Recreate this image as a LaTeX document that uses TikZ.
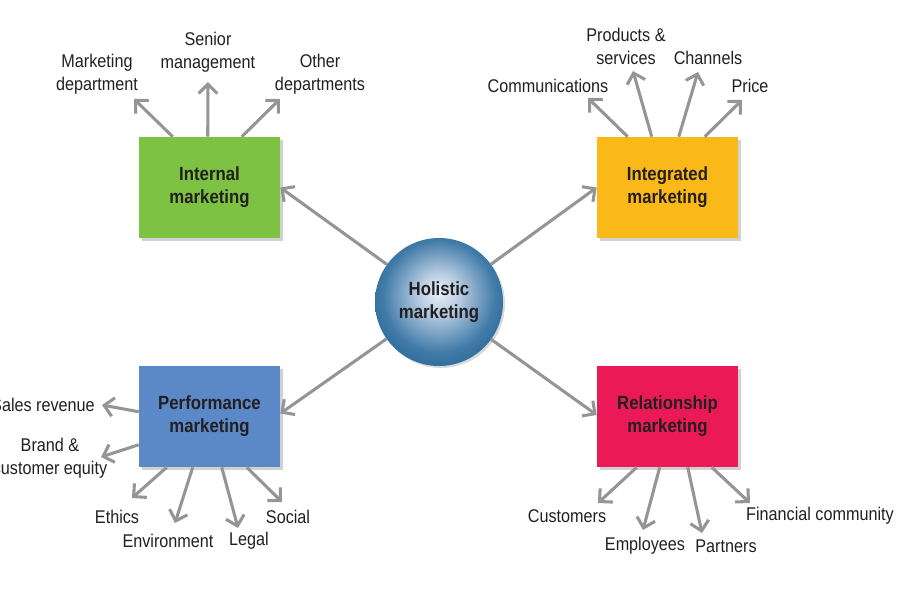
\documentclass[tikz,border=0pt]{standalone}
\usepackage{fontspec}
\setmainfont{Liberation Sans}[FakeStretch=0.88]
\usetikzlibrary{arrows.meta,shadows,calc}
\definecolor{cgreen}{HTML}{7DC242}
\definecolor{corange}{HTML}{FBB819}
\definecolor{cblue}{HTML}{5B89C8}
\definecolor{cpink}{HTML}{EB1A56}
\definecolor{ctext}{HTML}{231F20}
\definecolor{cgray}{HTML}{939598}
\pgfdeclareradialshading{holball}{\pgfpoint{0bp}{4bp}}{rgb(0bp)=(0.92,0.94,0.97); rgb(8bp)=(0.72,0.80,0.88); rgb(22bp)=(0.25,0.48,0.66); rgb(36bp)=(0.10,0.35,0.53); rgb(50bp)=(0.06,0.26,0.42)}
\begin{document}
\begin{tikzpicture}[x=0.75pt,y=-0.75pt,
  box/.style={minimum width=105.75pt,minimum height=75.75pt,inner sep=0pt,align=center,
    font=\fontsize{14.3}{17.25}\selectfont\bfseries,text=ctext,
    drop shadow={shadow xshift=2.5pt,shadow yshift=-2.5pt,opacity=0.3,fill=black!60}},
  hub/.style={circle,minimum size=96pt,inner sep=0pt,align=center,shading=holball,
    font=\fontsize{14.3}{17.25}\selectfont\bfseries,text=ctext,
    drop shadow={shadow xshift=1.5pt,shadow yshift=-1.5pt,opacity=0.25,fill=black!60}},
  lab/.style={inner sep=0pt,align=center,font=\fontsize{13.8}{17.25}\selectfont,text=ctext},
  arr/.style={draw=cgray,line width=2.3pt,-{Straight Barb[length=7pt,width=14pt]}}]
\useasboundingbox (0,0) rectangle (915,590);
% boxes
\node[box,fill=cgreen]  (int) at (209.5,187.5) {Internal\\marketing};
\node[box,fill=corange] (itg) at (667.5,187.5) {Integrated\\marketing};
\node[box,fill=cblue]   (prf) at (209.5,416.5) {Performance\\marketing};
\node[box,fill=cpink]   (rel) at (667.5,416.5) {Relationship\\marketing};
\node[hub] (hol) at (439,302) {Holistic\\marketing};
\draw[arr] (hol) -- (int.east);
\draw[arr] (hol) -- (itg.west);
\draw[arr] (hol) -- ($(prf.east)+(0,-3)$);
\draw[arr] (hol) -- ($(rel.west)+(0,-1.5)$);
% internal
\node[lab] (mkt) at (97,74.5) {Marketing\\department};
\node[lab] (sen) at (208,52.5) {Senior\\management};
\node[lab] (oth) at (320,74.5) {Other\\departments};
\coordinate (tmkt) at (134,99);
\coordinate (tsen) at (208,82);
\coordinate (toth) at (280,99);
\draw[arr] ($(int.north west)+(34,0)$) -- (tmkt);
\draw[arr] ($(int.north west)+(69,0)$) -- (tsen);
\draw[arr] ($(int.north west)+(103,0)$) -- (toth);
% integrated
\node[lab] (com) at (548,86) {Communications};
\node[lab] (pro) at (626,46.5) {Products \&\\services};
\node[lab] (cha) at (708,58) {Channels};
\node[lab] (pri) at (750,86) {Price};
\coordinate (tcom) at (588,98);
\coordinate (tpro) at (633,71);
\coordinate (tcha) at (698,72);
\coordinate (tpri) at (742,100);
\draw[arr] ($(itg.north west)+(31,0)$) -- (tcom);
\draw[arr] ($(itg.north west)+(55,0)$) -- (tpro);
\draw[arr] ($(itg.north west)+(82,0)$) -- (tcha);
\draw[arr] ($(itg.north west)+(108,0)$) -- (tpri);
% performance
\node[lab,anchor=east] (sal) at (95,405) {Sales revenue};
\node[lab] (bra) at (50,458) {Brand \&\\customer equity};
\node[lab] (eth) at (117,517) {Ethics};
\node[lab] (env) at (168,541) {Environment};
\node[lab] (leg) at (249,541) {Legal};
\node[lab] (soc) at (288,517) {Social};
\coordinate (tsal) at (102,405);
\coordinate (tbra) at (101,457);
\coordinate (teth) at (132,498);
\coordinate (tenv) at (175,523);
\coordinate (tleg) at (238,528);
\coordinate (tsoc) at (282,502);
\draw[arr] ($(prf.north west)+(0,46)$) -- (tsal);
\draw[arr] ($(prf.north west)+(0,79)$) -- (tbra);
\draw[arr] ($(prf.south west)+(28,0)$) -- (teth);
\draw[arr] ($(prf.south west)+(54,0)$) -- (tenv);
\draw[arr] ($(prf.south west)+(83,0)$) -- (tleg);
\draw[arr] ($(prf.south west)+(108,0)$) -- (tsoc);
% relationship
\node[lab] (cus) at (567,516) {Customers};
\node[lab] (emp) at (645,546) {Employees};
\node[lab] (par) at (726,546) {Partners};
\node[lab] (fin) at (820,516) {Financial community};
\coordinate (tcus) at (598,503);
\coordinate (temp) at (643,530);
\coordinate (tpar) at (702,533);
\coordinate (tfin) at (750,503);
\draw[arr] ($(rel.south west)+(40,0)$) -- (tcus);
\draw[arr] ($(rel.south west)+(63,0)$) -- (temp);
\draw[arr] ($(rel.south west)+(91,0)$) -- (tpar);
\draw[arr] ($(rel.south west)+(115,0)$) -- (tfin);
\end{tikzpicture}
\end{document}
